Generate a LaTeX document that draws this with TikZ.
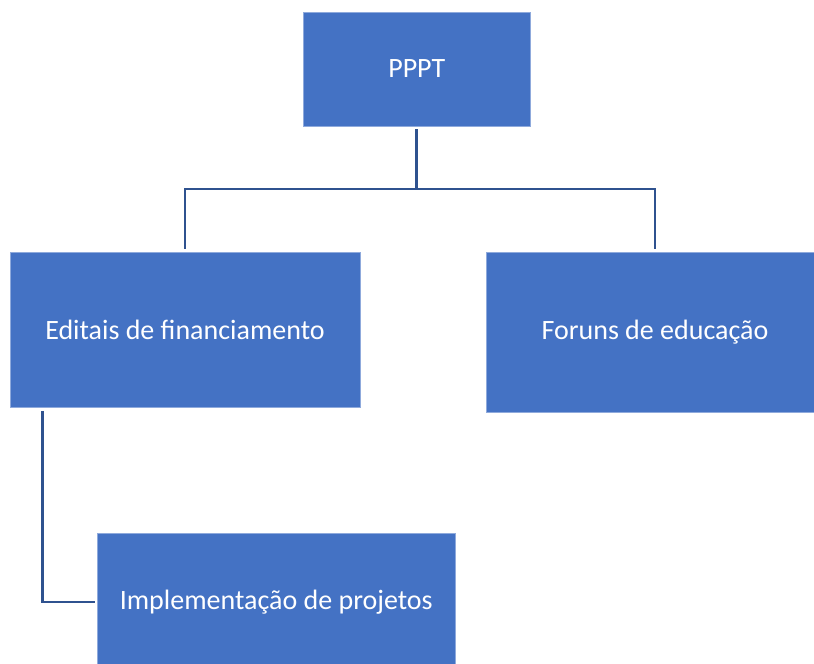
\documentclass[tikz,border=0pt]{standalone}
\usepackage{fontspec}
\setmainfont{Carlito}
\definecolor{boxblue}{RGB}{68, 114, 196}
\definecolor{edgeblue}{RGB}{143, 170, 220}
\definecolor{linkblue}{RGB}{47, 82, 143}
\usepackage{tikz}
\usetikzlibrary{positioning, calc}

\begin{document}
\begin{tikzpicture}[x=1pt, y=-1pt,
  orgbox/.style={draw=edgeblue, line width=0.8pt, fill=boxblue, text=white, inner sep=0pt, font=\fontsize{28}{33}\selectfont},
  link/.style={draw=linkblue, line width=2.8pt}]
  \useasboundingbox (0,0) rectangle (814,664);

  % Top
  \node[orgbox, minimum width=226.5pt, minimum height=114pt] (pppt) at (416.75, 69) {PPPT};

  % Second level
  \node[orgbox, minimum width=350pt, minimum height=154.5pt] (editais) at (185, 329.75) {Editais de financiamento};
  \node[orgbox, minimum width=338pt, minimum height=160pt] (foruns) at (655, 332) {Foruns de educação};

  % Third level
  \node[orgbox, minimum width=357.5pt, minimum height=137.5pt] (impl) at (276.25, 602) {Implementação de projetos};

  % Connectors
  \coordinate (hub) at (416.75, 189);
  \draw[link, shorten <=3pt] (pppt.south) -- (hub);
  \draw[link, shorten >=3pt] (hub) -| (editais.north);
  \draw[link, shorten >=3pt] (hub) -| (foruns.north);
  \draw[link, shorten <=3.5pt, shorten >=2.5pt] ([xshift=33pt]editais.south west) |- (impl.west);
\end{tikzpicture}
\end{document}
